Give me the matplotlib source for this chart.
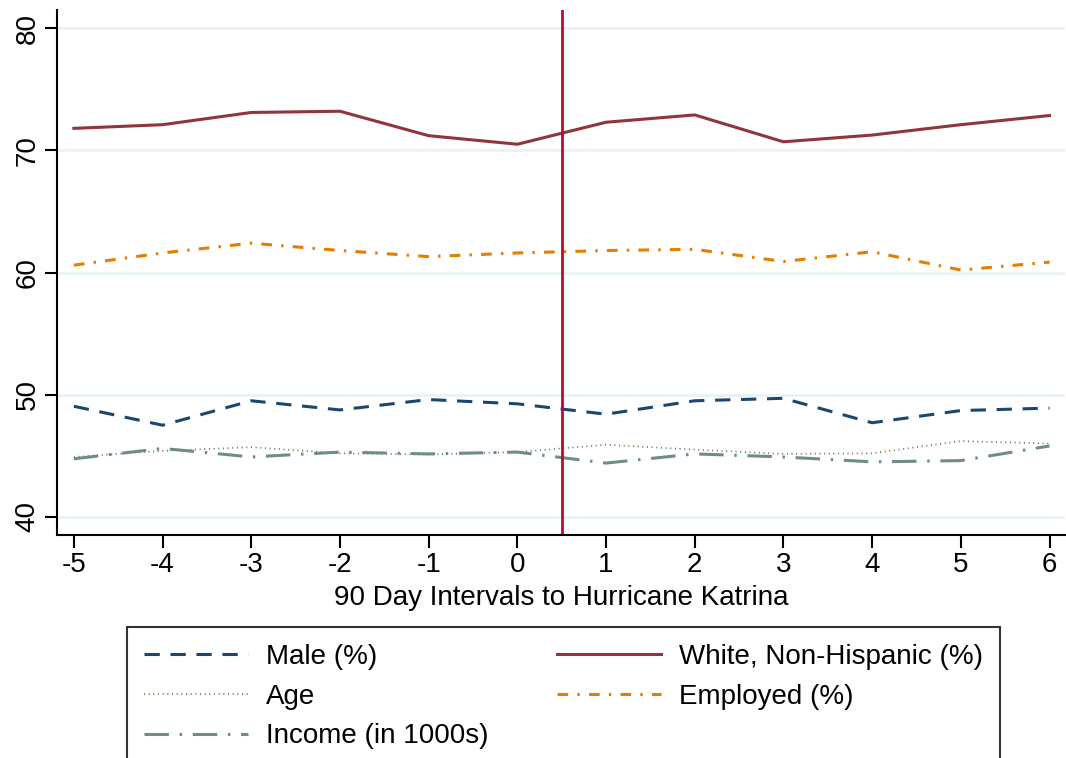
import numpy as np
import matplotlib
matplotlib.use("Agg")
from matplotlib import pyplot as plt

# 90-day intervals relative to Katrina
intervals = [-5, -4, -3, -2, -1, 0, 1, 2, 3, 4, 5, 6]

male = [49.05, 47.5, 49.5, 48.75, 49.6, 49.25, 48.4, 49.5, 49.7, 47.7, 48.7, 48.9]
white = [71.8, 72.1, 73.1, 73.2, 71.2, 70.5, 72.3, 72.9, 70.7, 71.25, 72.1, 72.85]
age = [44.9, 45.4, 45.7, 45.2, 45.1, 45.3, 45.9, 45.5, 45.15, 45.2, 46.2, 46.0]
employed = [60.6, 61.6, 62.4, 61.8, 61.3, 61.6, 61.8, 61.9, 60.9, 61.7, 60.2, 60.85]
income = [44.75, 45.6, 44.9, 45.3, 45.15, 45.3, 44.4, 45.15, 44.9, 44.5, 44.6, 45.8]

katrina_x = 0.5

plt.rcParams['font.family'] = ['Liberation Sans', 'DejaVu Sans']
plt.rcParams['axes.unicode_minus'] = False

fig = plt.figure(figsize=(10.66, 7.58), dpi=100)
ax = fig.add_axes([0.0535, 0.294, 0.946, 0.693])

# light horizontal grid
for yv in [40, 50, 60, 70, 80]:
  ax.axhline(yv, color='#eaf2f3', linewidth=2, zorder=0)

lw = 2.2
l_male, = ax.plot(intervals, male, color='#1a476f', lw=lw, dashes=(5, 3.5), label='Male (%)')
l_age, = ax.plot(intervals, age, color='#55752f', lw=1.2, dashes=(0.6, 2.2), label='Age')
l_inc, = ax.plot(intervals, income, color='#6e8e84', lw=lw, dashes=(8, 3.5, 0.8, 3.5), label='Income (in 1000s)')
l_white, = ax.plot(intervals, white, color='#90353b', lw=lw, label='White, Non-Hispanic (%)')
l_emp, = ax.plot(intervals, employed, color='#e37e00', lw=lw, dashes=(3.5, 3, 0.8, 3), label='Employed (%)')

ax.axvline(katrina_x, color='#c10534', lw=2)

ax.set_xlim(-5.19, 6.18)
ax.set_ylim(38.5, 81.5)
ax.set_xticks(intervals)
ax.set_yticks([40, 50, 60, 70, 80])
ax.tick_params(axis='both', labelsize=20, length=9, width=1.5, colors='black', pad=3)
ax.tick_params(axis='y', labelrotation=90)
for lab in ax.get_yticklabels():
  lab.set_verticalalignment('center')
ax.spines['top'].set_visible(False)
ax.spines['right'].set_visible(False)
ax.spines['left'].set_linewidth(1.5)
ax.spines['bottom'].set_linewidth(1.5)
ax.set_xlabel('90 Day Intervals to Hurricane Katrina', fontsize=20, labelpad=5)

leg = fig.legend(handles=[l_male, l_age, l_inc, l_white, l_emp], ncol=2,
                 loc='upper left', bbox_to_anchor=(0.119, -0.2, 0.819, 0.3728),
                 mode='expand', fontsize=20, handlelength=3.75, frameon=True,
                 fancybox=False, borderpad=0.6, labelspacing=0.5, handletextpad=0.65,
                 borderaxespad=0)
leg.get_frame().set_edgecolor('black')
leg.get_frame().set_linewidth(1.5)

plt.savefig('out.png', dpi=100)
